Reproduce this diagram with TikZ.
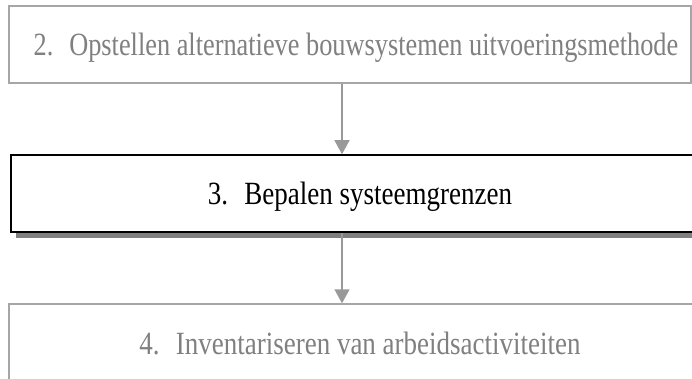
\documentclass[tikz,border=0pt]{standalone}
\usepackage{fontspec}
\setmainfont{Liberation Serif}
\usetikzlibrary{arrows.meta}
\definecolor{boxgray}{HTML}{A6A6A6}
\definecolor{txtgray}{HTML}{808080}
\definecolor{arrgray}{HTML}{999999}
\definecolor{shadowgray}{HTML}{808080}
\newcommand{\tallfont}[2][1]{\scalebox{#1}[1.2]{#2}}
\tikzset{
  fadedbox/.style={draw=boxgray, line width=1.4pt, fill=white, inner sep=0pt},
  activebox/.style={draw=black, line width=1.6pt, fill=white, inner sep=0pt},
  fadedtxt/.style={text=txtgray, anchor=base, inner sep=0pt, font=\fontsize{27}{32}\selectfont},
  activetxt/.style={text=black, anchor=base, inner sep=0pt, font=\fontsize{27}{32}\selectfont},
  flow/.style={draw=arrgray, line width=1.4pt, -{Triangle[width=15pt,length=14pt]}, color=arrgray},
}
\begin{document}
\begin{tikzpicture}[x=1pt,y=1pt]
\useasboundingbox (0,0) rectangle (692,-378);
\clip (0,0) rectangle (692,-378);
% boxes
\node[fadedbox, minimum width=682pt, minimum height=77pt] (b1) at (350,-44.5) {};
\fill[shadowgray] (16,-161) rectangle (710,-238);
\node[activebox, minimum width=700pt, minimum height=77pt] (b2) at (361,-193.5) {};
\node[fadedbox, minimum width=700pt, minimum height=77pt] (b3) at (359,-342.5) {};
% texts
\node[fadedtxt] (t1) at (356,-55) {\tallfont[0.975]{2.\hspace{0.6em}Opstellen alternatieve bouwsystemen uitvoeringsmethode}};
\node[activetxt] (t2) at (360,-204.5) {\tallfont{3.\hspace{0.6em}Bepalen systeemgrenzen}};
\node[fadedtxt] (t3) at (360,-354) {\tallfont{4.\hspace{0.6em}Inventariseren van arbeidsactiviteiten}};
% arrows
\coordinate (ax) at (342,0);
\draw[flow] (b1.south -| ax) -- (b2.north -| ax);
\draw[flow] (b2.south -| ax) -- (b3.north -| ax);
\end{tikzpicture}
\end{document}
